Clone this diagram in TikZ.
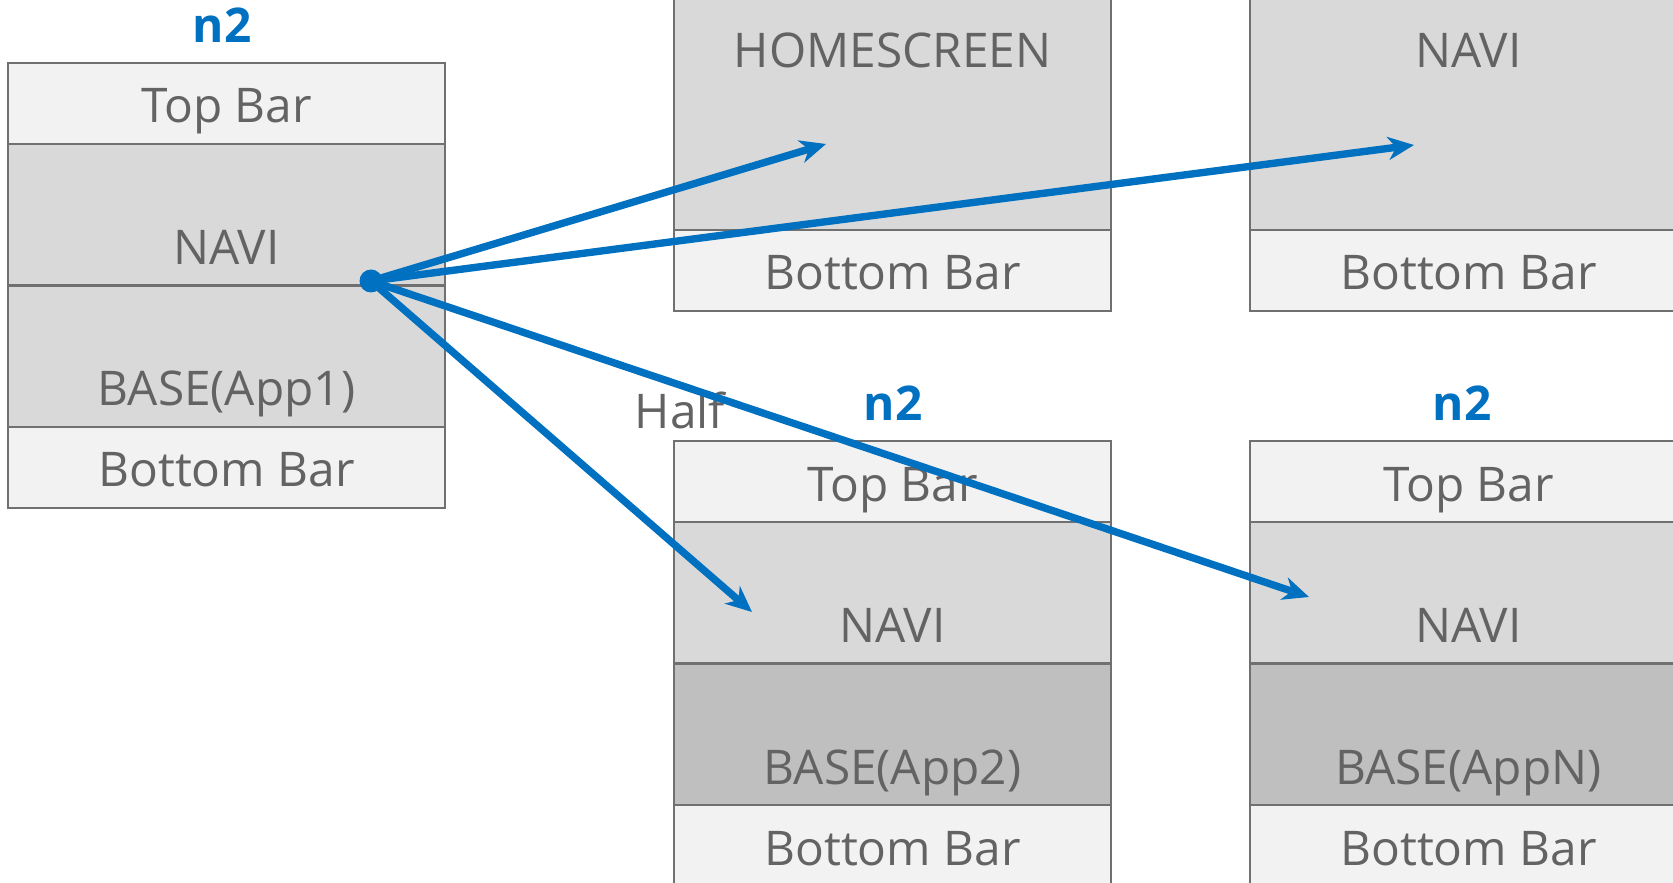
\documentclass[tikz,border=0pt]{standalone}
\usepackage{fontspec}
\setmainfont{Open Sans}
\usepackage{xcolor}
\usetikzlibrary{arrows.meta}
\definecolor{boxline}{HTML}{707070}
\definecolor{barfill}{HTML}{F2F2F2}
\definecolor{navifill}{HTML}{D9D9D9}
\definecolor{appfill}{HTML}{BFBFBF}
\definecolor{txtgray}{HTML}{636363}
\definecolor{linkblue}{HTML}{0070C0}
\tikzset{>={Stealth[length=2.6mm,width=2.3mm,inset=0.8mm]}}

\begin{document}
\begin{tikzpicture}[x=0.1mm,y=-0.1mm,
	txt/.style={text=txtgray,font=\fontsize{13.6}{16}\selectfont},
	title/.style={text=linkblue,font=\fontsize{13.6}{16}\selectfont\bfseries},
	sec/.style={draw=boxline,line width=0.6pt,minimum width=43.7mm,inner sep=0pt,outer sep=0pt,anchor=north west},
	bar/.style={sec,fill=barfill,minimum height=8.1mm,label={[txt,anchor=base,yshift=2.1mm]south:#1}},
	big/.style={sec,fill=navifill,minimum height=14.15mm,label={[txt,anchor=base,yshift=2.1mm]south:#1}},
	app/.style={sec,fill=appfill,minimum height=14.15mm,label={[txt,anchor=base,yshift=2.1mm]south:#1}},
	screen/.style={sec,fill=navifill,minimum height=30mm,anchor=south west,label={[txt,anchor=base,yshift=16.2mm]south:#1}},
	link/.style={->,draw=linkblue,line width=2.1pt}]
	\clip (0,0) rectangle (1673,883);
	% source phone
	\node[title] (l-title) at (222,25) {n2};
	\node[bar=Top Bar] (l-top) at (8,63) {};
	\node[big=NAVI] (l-navi) at (l-top.south west) {};
	\node[big=BASE(App1)] (l-app) at (l-navi.south west) {};
	\node[bar=Bottom Bar] (l-bottom) at (l-app.south west) {};
	% homescreen / navi full
	\node[bar=Bottom Bar] (h-bottom) at (674,230) {};
	\node[screen=HOMESCREEN] (h-screen) at (h-bottom.north west) {};
	\node[bar=Bottom Bar] (f-bottom) at (1250,230) {};
	\node[screen=NAVI] (f-screen) at (f-bottom.north west) {};
	% half screens
	\node[txt] (half) at (680,410) {Half};
	\node[title] (a-title) at (893,403) {n2};
	\node[bar=Top Bar] (a-top) at (674,441) {};
	\node[big=NAVI] (a-navi) at (a-top.south west) {};
	\node[app=BASE(App2)] (a-app) at (a-navi.south west) {};
	\node[bar=Bottom Bar] (a-bottom) at (a-app.south west) {};
	\node[title] (n-title) at (1462,403) {n2};
	\node[bar=Top Bar] (n-top) at (1250,441) {};
	\node[big=NAVI] (n-navi) at (n-top.south west) {};
	\node[app=BASE(AppN)] (n-app) at (n-navi.south west) {};
	\node[bar=Bottom Bar] (n-bottom) at (n-app.south west) {};
	% links
	\node[circle,fill=linkblue,inner sep=0pt,minimum size=2.3mm] (src) at (371,281) {};
	\coordinate (t-home) at (826,144);
	\coordinate (t-full) at (1414,145);
	\coordinate (t-half) at (752,612);
	\coordinate (t-appn) at (1309,597);
	\draw[link] (src.center) -- (t-home);
	\draw[link] (src.center) -- (t-full);
	\draw[link] (src.center) -- (t-half);
	\draw[link] (src.center) -- (t-appn);
\end{tikzpicture}
\end{document}
